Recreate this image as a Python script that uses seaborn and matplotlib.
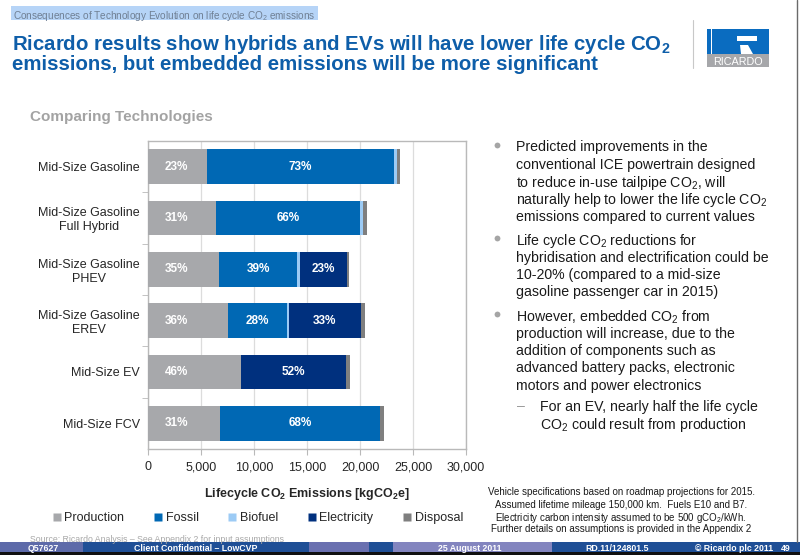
import matplotlib
matplotlib.use("Agg")
import matplotlib.pyplot as plt
import seaborn as sns
import pandas as pd
from matplotlib.patches import Rectangle, Polygon
from matplotlib.lines import Line2D

# ---------------- data ----------------
vehicles = ["Mid-Size Gasoline", "Mid-Size Gasoline\nFull Hybrid", "Mid-Size Gasoline\nPHEV",
            "Mid-Size Gasoline\nEREV", "Mid-Size EV", "Mid-Size FCV"]
production = [5600, 6450, 6700, 7500, 8800, 6750]
fossil = [17600, 13550, 7400, 5600, 0, 15150]
biofuel = [300, 250, 250, 200, 0, 0]
electricity = [0, 0, 4400, 6750, 9900, 0]
disposal = [300, 400, 250, 400, 400, 400]

prod_pct = ["23%", "31%", "35%", "36%", "46%", "31%"]
fossil_pct = ["73%", "66%", "39%", "28%", "", "68%"]
elec_pct = ["", "", "23%", "33%", "52%", ""]

components = ["Production", "Fossil", "Biofuel", "Electricity", "Disposal"]
colors = ["#a7a8ab", "#0068b4", "#9ccbf5", "#00307e", "#7f7f7f"]
xticks = [0, 5000, 10000, 15000, 20000, 25000, 30000]
xticklabels = ["0", "5,000", "10,000", "15,000", "20,000", "25,000", "30,000"]

df = pd.DataFrame({"vehicle": vehicles, "Production": production, "Fossil": fossil,
                   "Biofuel": biofuel, "Electricity": electricity, "Disposal": disposal})
cum = df[components].cumsum(axis=1)
df_c = pd.concat([df[["vehicle"]], cum], axis=1)

# ---------------- style ----------------
sns.set_style("white")
plt.rcParams["font.family"] = ["Liberation Sans", "DejaVu Sans"]
plt.rcParams["mathtext.fontset"] = "custom"
plt.rcParams["mathtext.rm"] = "Liberation Sans"
plt.rcParams["mathtext.it"] = "Liberation Sans:italic"
plt.rcParams["mathtext.bf"] = "Liberation Sans:bold"

W, H = 800, 555
fig = plt.figure(figsize=(8, 5.55), dpi=100)


def P(x, y):
    return (x / W, 1 - y / H)


def rect(x0, y0, x1, y1, color, z=0):
    r = Rectangle(P(x0, y1), (x1 - x0) / W, (y1 - y0) / H, transform=fig.transFigure,
                  facecolor=color, edgecolor="none", zorder=z)
    fig.add_artist(r)


def txt(x, y, s, **kw):
    kw.setdefault("va", "center_baseline")
    fig.text(*P(x, y), s, **kw)


ax = fig.add_axes([148 / W, 1 - 449 / H, (466 - 148) / W, (449 - 141) / H])

# stacked bars: draw cumulative totals from last to first
for comp, col in reversed(list(zip(components, colors))):
    sns.barplot(data=df_c, x=comp, y="vehicle", orient="h", color=col, saturation=1,
                width=0.68, ax=ax, linewidth=0, zorder=3)

ax.set_xlim(0, 30000)
ax.set_ylim(5.5, -0.5)
ax.set_xticks(xticks)
ax.set_xticklabels(xticklabels, fontsize=9)
ax.grid(axis="x", color="#dcdcdc", linewidth=0.9, zorder=0)
ax.grid(axis="y", visible=False)
ax.set_axisbelow(True)
for s in ax.spines.values():
    s.set_color("#b9b9b9")
    s.set_linewidth(1.0)
ax.tick_params(axis="x", which="major", length=4, color="#b9b9b9", pad=5, direction="out", bottom=True)
ax.tick_params(axis="y", which="major", length=0, pad=6, labelsize=9)
ax.set_yticks([0.5, 1.5, 2.5, 3.5, 4.5], minor=True)
ax.tick_params(axis="y", which="minor", length=4, color="#b9b9b9", left=True, direction="out")
for lbl in ax.get_yticklabels():
    lbl.set_multialignment("center")
ax.set_ylabel("")
ax.set_xlabel(r"Lifecycle CO$_\mathbf{2}$ Emissions [kgCO$_\mathbf{2}$e]", fontsize=9,
              fontweight="bold", labelpad=9)

# percentage labels
lab_kw = dict(color="white", fontweight="bold", fontsize=8.5, ha="center", va="center", zorder=5)
for i in range(len(vehicles)):
    ax.text(2650, i, prod_pct[i], **lab_kw)
    if fossil_pct[i]:
        ax.text(production[i] + fossil[i] / 2, i, fossil_pct[i], **lab_kw)
    if elec_pct[i]:
        start = production[i] + fossil[i] + biofuel[i]
        ax.text(start + electricity[i] / 2, i, elec_pct[i], **lab_kw)

# legend
handles = [Line2D([0], [0], marker="s", linestyle="none", markersize=6.2,
                  markerfacecolor=c, markeredgecolor="none") for c in colors]
fig.legend(handles, components, loc="center", bbox_to_anchor=P(258, 518), ncol=5,
           frameon=False, fontsize=9, handlelength=0.6, handletextpad=0.3,
           columnspacing=2.4, borderpad=0)

# ---------------- slide decoration ----------------
# header with selection highlight
rect(11, 6, 318, 20, "#b6d4f7", z=0)
txt(13, 14, r"Consequences of Technology Evolution on life cycle CO$_2$ emissions",
    fontsize=7.2, color="#6f7f93", ha="left")

title_kw = dict(fontsize=14.7, fontweight="bold", color="#0e5ea9", ha="left")
txt(12, 41, r"Ricardo results show hybrids and EVs will have lower life cycle CO$_\mathbf{2}$", **title_kw)
txt(12, 62, "emissions, but embedded emissions will be more significant", **title_kw)

# logo
fig.add_artist(Line2D([693 / W, 693 / W], [1 - 20 / H, 1 - 68 / H], transform=fig.transFigure,
                      color="#c8c8c8", linewidth=0.8))
rect(707, 29, 769, 54, "#0a6cc0", z=1)
rect(711, 29, 712.3, 54, "white", z=2)
rect(737, 36.5, 757, 41, "white", z=2)
fig.add_artist(Polygon([P(740, 45), P(748, 45), P(753, 54), P(741, 54)], closed=True,
                       transform=fig.transFigure, facecolor="white", edgecolor="none", zorder=2))
rect(707, 54, 769, 67, "#a6a7aa", z=1)
txt(738, 61, "RICARDO", fontsize=7.8, color="white", ha="center", zorder=3)

txt(30, 116, "Comparing Technologies", fontsize=11, fontweight="bold", color="#a3a3a3", ha="left")

# bullet text
bt_kw = dict(fontsize=10.2, color="#1a1a1a", ha="left")
bullets = [
    (146, [r"Predicted improvements in the", r"conventional ICE powertrain designed",
           r"to reduce in-use tailpipe CO$_2$, will",
           r"naturally help to lower the life cycle CO$_2$",
           r"emissions compared to current values"]),
    (239, [r"Life cycle CO$_2$ reductions for", r"hybridisation and electrification could be",
           r"10-20% (compared to a mid-size", r"gasoline passenger car in 2015)"]),
    (315, [r"However, embedded CO$_2$ from", r"production will increase, due to the",
           r"addition of components such as", r"advanced battery packs, electronic",
           r"motors and power electronics"]),
]
for y0, lines in bullets:
    fig.add_artist(Line2D([497 / W], [1 - (y0 - 1) / H], transform=fig.transFigure,
                          marker="o", markersize=4.2, markerfacecolor="#a5a5a5",
                          markeredgecolor="none", linestyle="none"))
    for k, line in enumerate(lines):
        txt(516, y0 + k * 17.3, line, **bt_kw)
txt(517, 405, "–", fontsize=10.2, color="#9a9a9a", ha="left")
txt(540, 405, "For an EV, nearly half the life cycle", **bt_kw)
txt(540, 423, r"CO$_2$ could result from production", **bt_kw)

# notes
notes = ["Vehicle specifications based on roadmap projections for 2015.",
         "Assumed lifetime mileage 150,000 km.  Fuels E10 and B7.",
         r"Electricity carbon intensity assumed to be 500 gCO$_2$/kWh.",
         "Further details on assumptions is provided in the Appendix 2"]
for k, line in enumerate(notes):
    txt(621, 491 + k * 12.5, line, fontsize=7, color="#1a1a1a", ha="center")

txt(30, 539, "Source: Ricardo Analysis – See Appendix 2 for input assumptions",
    fontsize=6.3, color="#a8a8a8", ha="left")

# right border
fig.add_artist(Line2D([796.5 / W, 796.5 / W], [1.0, 1 - 542 / H], transform=fig.transFigure,
                      color="#6a6a6a", linewidth=1.0))

# footer
rect(0, 542, 800, 552, "#1f4f96", z=1)
rect(0, 542, 83, 552, "#5d6aa9", z=2)
rect(309, 542, 369, 552, "#6a70b0", z=2)
rect(393, 542, 552, 552, "#8385bf", z=2)
rect(0, 552, 800, 555, "#101010", z=2)
ft_kw = dict(fontsize=6.3, color="white", fontweight="bold", zorder=4)
txt(28, 547.5, "Q57627", ha="left", **ft_kw)
txt(196, 547.5, "Client Confidential – LowCVP", ha="center", **ft_kw)
txt(470, 547.5, "25 August 2011", ha="center", **ft_kw)
txt(617, 547.5, "RD.11/124801.5", ha="center", **ft_kw)
txt(734, 547.5, "© Ricardo plc 2011", ha="center", **ft_kw)
txt(786, 547.5, "49", ha="center", **ft_kw)

fig.savefig("out.png", dpi=100, facecolor="white")
